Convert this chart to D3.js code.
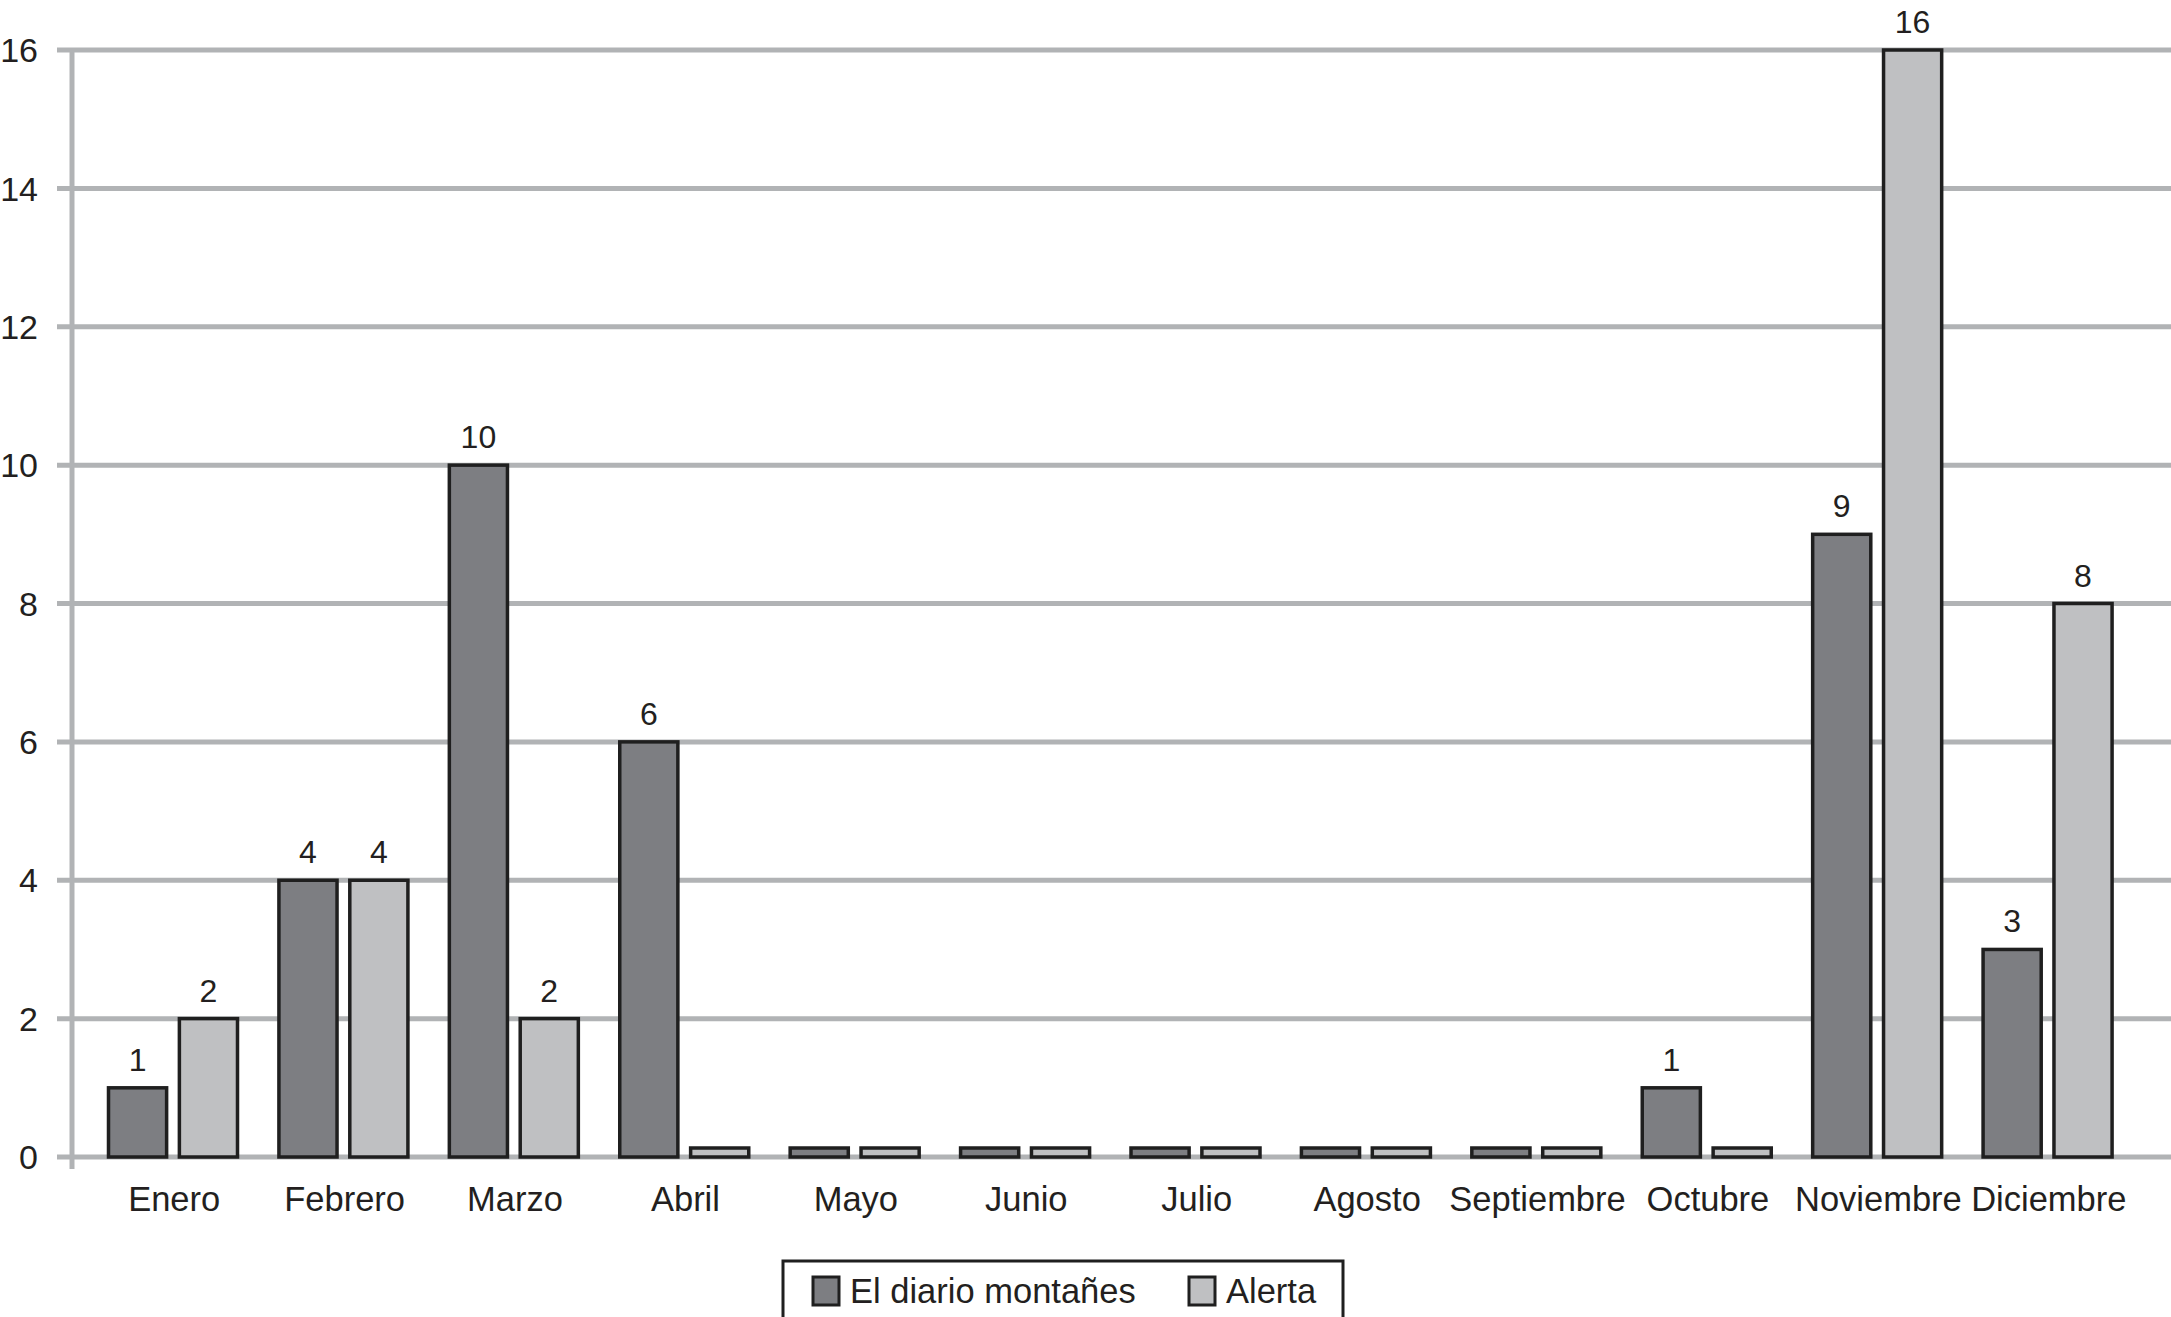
<!DOCTYPE html>
<html><head><meta charset="utf-8">
<script src="https://cdnjs.cloudflare.com/ajax/libs/d3/7.8.5/d3.min.js"></script>
<style>html,body{margin:0;padding:0;background:#fff;}svg{display:block;font-family:"Liberation Sans",Arial,sans-serif;}</style>
</head><body>
<script>
const months = ["Enero","Febrero","Marzo","Abril","Mayo","Junio","Julio","Agosto","Septiembre","Octubre","Noviembre","Diciembre"];
const seriesNames = ["El diario montañes","Alerta"];
const diario = [1,4,10,6,0,0,0,0,0,1,9,3];
const alerta = [2,4,2,0,0,0,0,0,0,0,16,8];
const yTicks = [0,2,4,6,8,10,12,14,16];
const colors = ["#7d7e82","#bfc0c2"];

const W = 2171, H = 1317;
const svg = d3.select("body").append("svg").attr("width", W).attr("height", H);
const axisX = 72, y0 = 1157, yTop = 50;
const y = d3.scaleLinear().domain([0,16]).range([y0, yTop]);
const x = d3.scaleBand().domain(months).range([88, 2133]).padding(0);
const inner = d3.scaleBand().domain([0,1]).range([20.5, 149.5]).paddingInner(0.18).paddingOuter(0);
const txt = "#231f20";

// gridlines
svg.append("g").selectAll("line").data(yTicks).join("line")
  .attr("x1", 57).attr("x2", W).attr("y1", d => y(d)).attr("y2", d => y(d))
  .attr("stroke", "#b1b3b5").attr("stroke-width", 5);
// y axis line
svg.append("line").attr("x1", axisX).attr("x2", axisX).attr("y1", yTop - 2).attr("y2", 1169)
  .attr("stroke", "#b1b3b5").attr("stroke-width", 5);
// y labels
svg.append("g").selectAll("text").data(yTicks).join("text")
  .attr("x", 38).attr("y", d => y(d)).attr("dy", "0.36em").attr("text-anchor", "end")
  .attr("font-size", 34).attr("fill", txt).text(d => d);

const data = [diario, alerta];
const minH = 9;
data.forEach((vals, s) => {
  const g = svg.append("g");
  g.selectAll("rect").data(vals).join("rect")
    .attr("x", (d,i) => x(months[i]) + inner(s))
    .attr("width", inner.bandwidth())
    .attr("y", d => Math.min(y(d), y0 - minH))
    .attr("height", d => Math.max(y0 - y(d), minH))
    .attr("fill", colors[s]).attr("stroke", "#1f1f1f").attr("stroke-width", 3.5);
  g.selectAll("text.v").data(vals.map((v,i)=>({v,i})).filter(o => o.v > 0)).join("text")
    .attr("class","v")
    .attr("x", o => x(months[o.i]) + inner(s) + inner.bandwidth()/2)
    .attr("y", o => y(o.v) - 17)
    .attr("text-anchor", "middle").attr("font-size", 32).attr("fill", txt).text(o => o.v);
});

// x labels
svg.append("g").selectAll("text").data(months).join("text")
  .attr("x", d => x(d) + x.bandwidth()/2 + 1).attr("y", 1211)
  .attr("text-anchor", "middle").attr("font-size", 34.5).attr("fill", txt).text(d => d);

// legend
const lg = svg.append("g");
lg.append("rect").attr("x", 783).attr("y", 1261).attr("width", 560).attr("height", 60)
  .attr("fill", "#fff").attr("stroke", "#1f1f1f").attr("stroke-width", 3);
const legendX = [813, 1189];
seriesNames.forEach((n, i) => {
  lg.append("rect").attr("x", legendX[i]).attr("y", 1277).attr("width", 26).attr("height", 28)
    .attr("fill", colors[i]).attr("stroke", "#1f1f1f").attr("stroke-width", 3);
  lg.append("text").attr("x", legendX[i] + 37).attr("y", 1303).attr("font-size", 34.5)
    .attr("fill", txt).text(n);
});
</script>
</body></html>
